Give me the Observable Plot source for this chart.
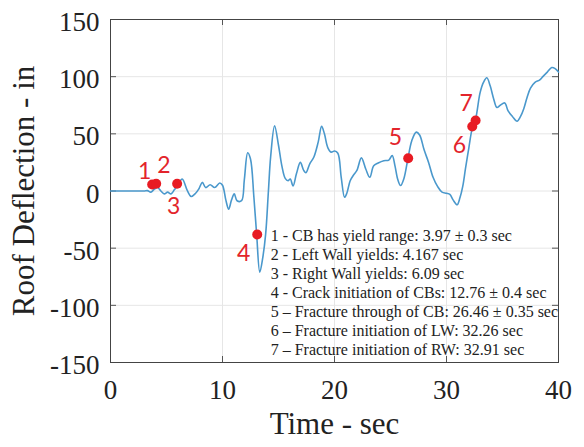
<!DOCTYPE html>
<html><head><meta charset="utf-8">
<script src="https://cdn.jsdelivr.net/npm/d3@7"></script>
<script src="https://cdn.jsdelivr.net/npm/@observablehq/plot@0.6"></script>
<style>body{margin:0;background:#fff}</style>
</head><body><div id="chart"></div>
<script>
// Roof deflection time history
const time = [0,1,2,3,3.3,3.6,3.9,4.2,4.5,4.8,5.1,5.4,5.7,6.0,6.4,6.85,7.2,7.6,7.9,8.2,8.5,8.9,9.3,9.75,10.0,10.3,10.55,10.8,11.05,11.3,11.7,11.95,12.25,12.5,12.8,13.05,13.33,13.6,13.85,14.1,14.3,14.65,15.0,15.3,15.6,15.85,16.05,16.3,16.6,16.95,17.25,17.45,17.8,18.15,18.55,18.85,19.1,19.4,19.7,20.0,20.3,20.6,20.9,21.1,21.4,21.7,22.0,22.4,22.8,23.15,23.5,23.9,24.4,24.85,25.15,25.4,25.65,25.9,26.2,26.55,26.9,27.3,27.6,28.0,28.4,28.8,29.2,29.6,30.0,30.3,30.6,30.95,31.2,31.45,31.7,32.0,32.3,32.6,33.0,33.3,33.6,33.9,34.2,34.5,34.8,35.2,35.5,35.9,36.3,36.6,36.9,37.2,37.5,37.9,38.3,38.6,39.0,39.4,39.7,40.0];
const deflection = [0,0,0,0,0.3,-1,1.5,3,0,-2.5,-1,-2.5,1,5,10.5,0.5,-4.8,-2,2,7.5,3,5.5,3,7,5,-8,-16,-8,-2.5,-8.5,-8.5,10,33.5,28,-5,-38,-71,-58,-38,0,30,57,40,22,11,9,10.5,4.5,15,25,18,16,24,29.5,43,56.5,50,38,34,35,33,12,-5.5,-2,9,14,18,29,19,12,22,24.5,26.5,27,31,22,10,4.8,11,28,44,51.5,49,36,25,12,4,-1,-2,-3,-8,-12,-6,4,20,38,55,63,86,95,99,92,81,73,75,77,70,65,61,65,72,82,90,95,97,100,104,108,107,104];

// Event markers
const eventNumbers = ["1","2","3","4","5","6","7"];
const eventTimes = [3.72,4.08,5.95,13.1,26.58,32.3,32.6];
const eventDeflections = [5.7,6.3,6.3,-38,28.7,56.4,61.7];
const labelTimes = [3.06,4.76,5.65,11.9,25.45,31.16,31.76];
const labelDeflections = [17,22,-14,-55,47,40,76];

// Legend text block
const annotationLines = [
  "1 - CB has yield range: 3.97 \u00b1 0.3 sec",
  "2 - Left Wall yields: 4.167 sec",
  "3 - Right Wall yields: 6.09 sec",
  "4 - Crack initiation of CBs: 12.76 \u00b1 0.4 sec",
  "5 \u2013 Fracture through of CB: 26.46 \u00b1 0.35 sec",
  "6 \u2013 Fracture initiation of LW: 32.26 sec",
  "7 \u2013 Fracture initiation of RW: 32.91 sec"
];
const annotationTime = [14.3];
const annotationDeflection = [-88];

const xTicks = [0,10,20,30,40];
const yTicks = [-150,-100,-50,0,50,100,150];
const xLabel = "Time - sec";
const yLabel = "Roof Deflection - in";

const series = time.map((t,i) => ({t, v: deflection[i]}));
const events = eventNumbers.map((n,i) => ({n, t: eventTimes[i], v: eventDeflections[i], lt: labelTimes[i], lv: labelDeflections[i]}));
const annotation = [{t: annotationTime[0], v: annotationDeflection[0], text: annotationLines.join("\n")}];

const serif = "'Liberation Serif', 'Times New Roman', serif";
const fmt = d => `${d}`;

const chart = Plot.plot({
  width: 584, height: 447,
  marginLeft: 110, marginRight: 26, marginTop: 19, marginBottom: 85,
  style: {fontFamily: serif, background: "#fff", color: "#222"},
  x: {domain: [0, 40], ticks: xTicks, label: null},
  y: {domain: [-150, 150], ticks: yTicks, label: null},
  marks: [
    Plot.gridX(xTicks, {stroke: "#e6e6e6", strokeOpacity: 1}),
    Plot.gridY(yTicks, {stroke: "#e6e6e6", strokeOpacity: 1}),
    // inward tick marks on all four sides
    Plot.tickX(xTicks, {x: d => d, insetTop: 337, stroke: "#555"}),
    Plot.tickX(xTicks, {x: d => d, insetBottom: 337, stroke: "#555"}),
    Plot.tickY(yTicks, {y: d => d, insetRight: 442, stroke: "#555"}),
    Plot.tickY(yTicks, {y: d => d, insetLeft: 442, stroke: "#555"}),
    Plot.axisX(xTicks, {anchor: "bottom", tickSize: 0, tickPadding: 17, fontSize: 27, fontFamily: serif, tickFormat: fmt, label: null, fill: "#222"}),
    Plot.axisY(yTicks, {anchor: "left", tickSize: 0, tickPadding: 11, dy: 3, fontSize: 27, fontFamily: serif, tickFormat: fmt, label: null, fill: "#222"}),
    Plot.axisX([], {anchor: "bottom", tickSize: 0, label: xLabel, labelAnchor: "center", labelOffset: 71, labelArrow: "none", fontSize: 31, fontFamily: serif, fill: "#222"}),
    Plot.axisY([], {anchor: "left", tickSize: 0, label: yLabel, labelAnchor: "center", labelOffset: 99, labelArrow: "none", fontSize: 31, fontFamily: serif, fill: "#222"}),
    Plot.frame({stroke: "#444", strokeWidth: 1}),
    Plot.line(series, {x: "t", y: "v", stroke: "#4a98cc", strokeWidth: 1.6, curve: "catmull-rom"}),
    Plot.dot(events, {x: "t", y: "v", r: 5, fill: "#e81b23", stroke: "none"}),
    Plot.text(events, {x: "lt", y: "lv", text: "n", fill: "#e3242b", fontSize: 23, fontFamily: "Lato, 'Open Sans', sans-serif"}),
    Plot.text(annotation, {x: "t", y: "v", text: "text", textAnchor: "start", lineAnchor: "middle", lineHeight: 1.19, fontSize: 16, fontFamily: serif, fill: "#222"})
  ]
});
document.getElementById("chart").appendChild(chart);
</script>
</body></html>
